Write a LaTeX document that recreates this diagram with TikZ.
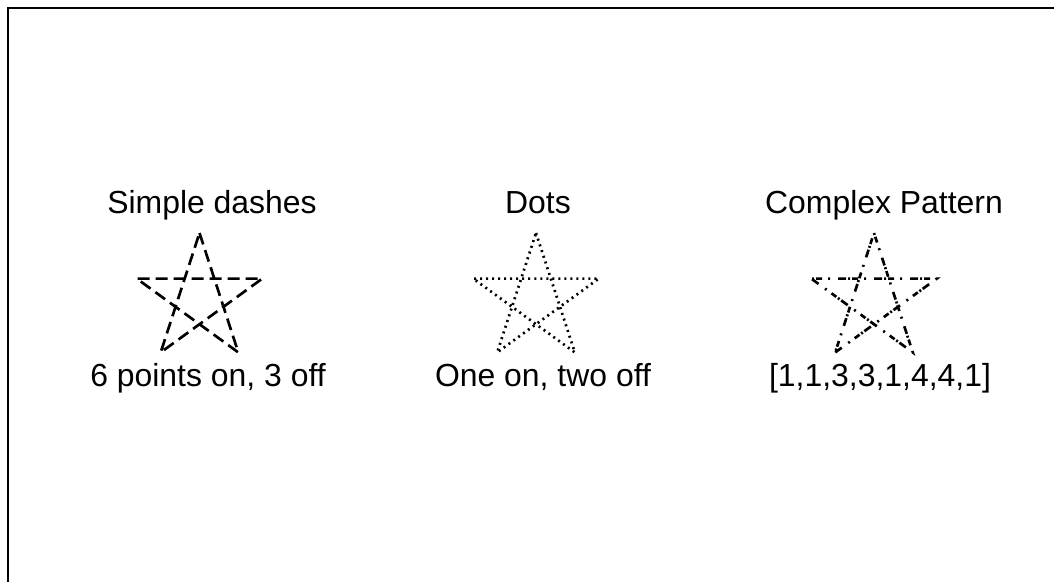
\documentclass[tikz,border=0pt]{standalone}
\usepackage{fontspec}
\setmainfont{Liberation Sans}
\tikzset{
  caption text/.style={anchor=base,font=\fontsize{22.7}{27}\selectfont},
  star line/.style={line width=1.9pt},
  simple dashes/.style={star line,dash pattern=on 0.3cm off 0.15cm},
  dot dashes/.style={star line,dash pattern=on 0.05cm off 0.1cm},
  complex dashes/.style={star line,dash pattern=on 0.05cm off 0.05cm on 0.15cm off 0.15cm on 0.05cm off 0.2cm on 0.2cm off 0.05cm},
}
% star centred at (#1,#2), drawn in style #3
\newcommand{\pentastar}[3]{%
  \draw[#3,shift={(#1,#2)}] (-90:66) -- (54:66) -- (-162:66) -- (-18:66) -- (126:66) -- cycle;}
\begin{document}
\begin{tikzpicture}[x=0.025cm,y=-0.025cm]
    \useasboundingbox (0,0) rectangle (1054,581);
    % Frame
    \draw[line width=2pt] (8,8) rectangle (1080,600);
    % Stars
    \pentastar{199.5}{299}{simple dashes}
    \pentastar{536}{299}{dot dashes}
    \pentastar{874}{299}{complex dashes}
    % Labels
    \node[caption text] (simpletitle) at (212,213) {Simple dashes};
    \node[caption text] (dotstitle) at (538,213) {Dots};
    \node[caption text] (complextitle) at (884,213) {Complex Pattern};
    \node[caption text] (simplenote) at (208,386) {6 points on, 3 off};
    \node[caption text] (dotsnote) at (543,386) {One on, two off};
    \node[caption text] (complexnote) at (880,386) {[1,1,3,3,1,4,4,1]};

  \end{tikzpicture}
\end{document}
